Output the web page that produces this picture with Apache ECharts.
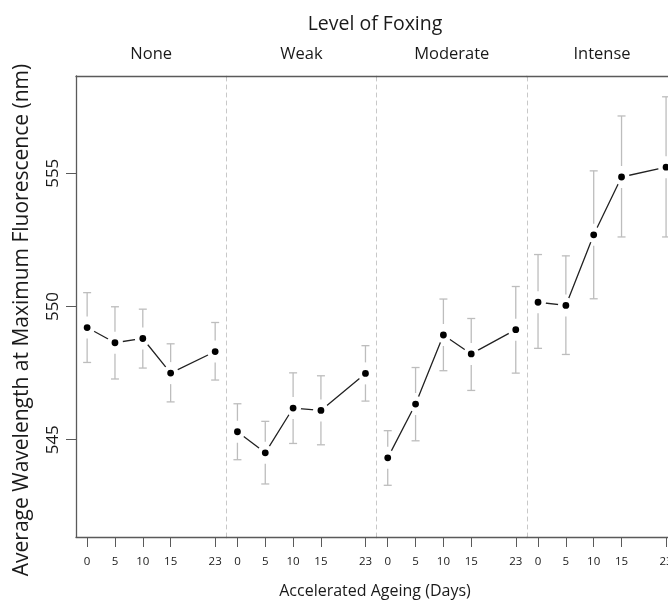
<!DOCTYPE html>
<html>
<head>
<meta charset="utf-8">
<script src="https://cdn.jsdelivr.net/npm/echarts@6/dist/echarts.min.js"></script>
<style>html,body{margin:0;padding:0;background:#fff}#c{width:668px;height:601px}</style>
</head>
<body>
<div id="c"></div>
<script>
const days = [0, 5, 10, 15, 23];
const panelNames = ['None', 'Weak', 'Moderate', 'Intense'];
const yTicks = [545, 550, 555];

const meanNone = [549.21, 548.64, 548.80, 547.50, 548.31];
const highNone = [550.52, 549.99, 549.90, 548.60, 549.40];
const lowNone  = [547.90, 547.28, 547.69, 546.42, 547.24];

const meanWeak = [545.30, 544.51, 546.19, 546.10, 547.49];
const highWeak = [546.35, 545.69, 547.51, 547.40, 548.53];
const lowWeak  = [544.25, 543.34, 544.86, 544.81, 546.45];

const meanModerate = [544.32, 546.34, 548.93, 548.22, 549.13];
const highModerate = [545.34, 547.71, 550.28, 549.55, 550.75];
const lowModerate  = [543.29, 544.96, 547.59, 546.85, 547.50];

const meanIntense = [550.16, 550.04, 552.69, 554.86, 555.23];
const highIntense = [551.95, 551.90, 555.09, 557.15, 557.87];
const lowIntense  = [548.43, 548.20, 550.29, 552.61, 552.61];

const means = [meanNone, meanWeak, meanModerate, meanIntense];
const highs = [highNone, highWeak, highModerate, highIntense];
const lows = [lowNone, lowWeak, lowModerate, lowIntense];

const FONT = '"Open Sans", sans-serif';
const TXT = '#1a1a1a';
const AX = '#5a5a5a';
const PANEL_LEFT = 76, PANEL_W = 150.3, TOP = 76, H = 461;
const YMIN = 541.35, YMAX = 558.65;
const XMIN = -2, XMAX = 25;

const grids = [], xAxes = [], yAxes = [], series = [];
panelNames.forEach((name, i) => {
  grids.push({left: PANEL_LEFT + i * PANEL_W, width: PANEL_W, top: TOP, height: H,
              containLabel: false, outerBoundsMode: 'none'});
  xAxes.push({
    type: 'value', gridIndex: i, position: 'bottom', min: XMIN, max: XMAX,
    axisLine: {show: true, onZero: false, lineStyle: {color: AX, width: 1.3}},
    axisTick: {show: true, customValues: days, length: 10, lineStyle: {color: AX, width: 1}},
    axisLabel: {show: true, customValues: days, margin: 19, fontSize: 11.5, color: TXT, fontFamily: FONT,
                hideOverlap: false},
    splitLine: {show: false}
  });
  xAxes.push({
    type: 'value', gridIndex: i, position: 'top', min: XMIN, max: XMAX,
    axisLine: {show: true, onZero: false, lineStyle: {color: AX, width: 1.3}},
    axisTick: {show: false}, axisLabel: {show: false}, splitLine: {show: false},
    name: name, nameLocation: 'middle', nameGap: 13,
    nameTextStyle: {fontSize: 16.5, color: TXT, fontFamily: FONT}
  });
  if (i === 0) {
    yAxes.push({
      type: 'value', gridIndex: i, min: YMIN, max: YMAX, position: 'left',
      axisLine: {show: true, onZero: false, lineStyle: {color: AX, width: 1.3}},
      axisTick: {show: true, customValues: yTicks, length: 10, lineStyle: {color: AX, width: 1}},
      axisLabel: {show: true, customValues: yTicks, rotate: 90, margin: 14, fontSize: 17, color: TXT, fontFamily: FONT},
      splitLine: {show: false}
    });
  } else {
    yAxes.push({
      type: 'value', gridIndex: i, min: YMIN, max: YMAX, position: 'left',
      axisLine: {show: true, onZero: false, lineStyle: {color: '#c8c8c8', width: 1, type: [4, 4]}},
      axisTick: {show: false}, axisLabel: {show: false}, splitLine: {show: false}
    });
  }
  const ebData = days.map((d, k) => [d, means[i][k], lows[i][k], highs[i][k]]);
  series.push({
    type: 'custom', xAxisIndex: i * 2, yAxisIndex: i, z: 1,
    data: ebData,
    encode: {x: 0, y: [1, 2, 3]},
    renderItem: function (params, api) {
      const x = api.value(0), m = api.value(1), lo = api.value(2), hi = api.value(3);
      const pm = api.coord([x, m]), pl = api.coord([x, lo]), ph = api.coord([x, hi]);
      const gap = 11, cap = 4;
      const st = {stroke: '#bdbdbd', lineWidth: 1.3};
      const ch = [];
      if (pm[1] - gap > ph[1]) ch.push({type: 'line', shape: {x1: ph[0], y1: ph[1], x2: ph[0], y2: pm[1] - gap}, style: st});
      if (pm[1] + gap < pl[1]) ch.push({type: 'line', shape: {x1: pl[0], y1: pm[1] + gap, x2: pl[0], y2: pl[1]}, style: st});
      ch.push({type: 'line', shape: {x1: ph[0] - cap, y1: ph[1], x2: ph[0] + cap, y2: ph[1]}, style: st});
      ch.push({type: 'line', shape: {x1: pl[0] - cap, y1: pl[1], x2: pl[0] + cap, y2: pl[1]}, style: st});
      return {type: 'group', children: ch};
    }
  });
  series.push({
    type: 'line', xAxisIndex: i * 2, yAxisIndex: i, z: 3,
    data: days.map((d, k) => [d, means[i][k]]),
    symbol: 'circle', symbolSize: 11.4, showSymbol: true,
    itemStyle: {color: '#000', borderColor: '#fff', borderWidth: 4.6},
    lineStyle: {color: '#222', width: 1.3},
    animation: false, silent: true
  });
});

const chart = echarts.init(document.getElementById('c'), null, {renderer: 'canvas'});
chart.setOption({
  animation: false,
  backgroundColor: '#fff',
  title: [
    {text: 'Level of Foxing', left: 370, top: 9, textAlign: 'center',
     textStyle: {fontSize: 19.5, fontWeight: 'normal', color: TXT, fontFamily: FONT}},
    {text: 'Accelerated Ageing (Days)', left: 370, top: 578, textAlign: 'center',
     textStyle: {fontSize: 16, fontWeight: 'normal', color: TXT, fontFamily: FONT}}
  ],
  graphic: [{
    type: 'text', x: 22, y: 320, rotation: Math.PI / 2,
    style: {text: 'Average Wavelength at Maximum Fluorescence (nm)', fill: TXT, fontSize: 21,
            fontFamily: FONT, align: 'center', verticalAlign: 'middle'}
  }],
  grid: grids, xAxis: xAxes, yAxis: yAxes, series: series
});
</script>
</body>
</html>
